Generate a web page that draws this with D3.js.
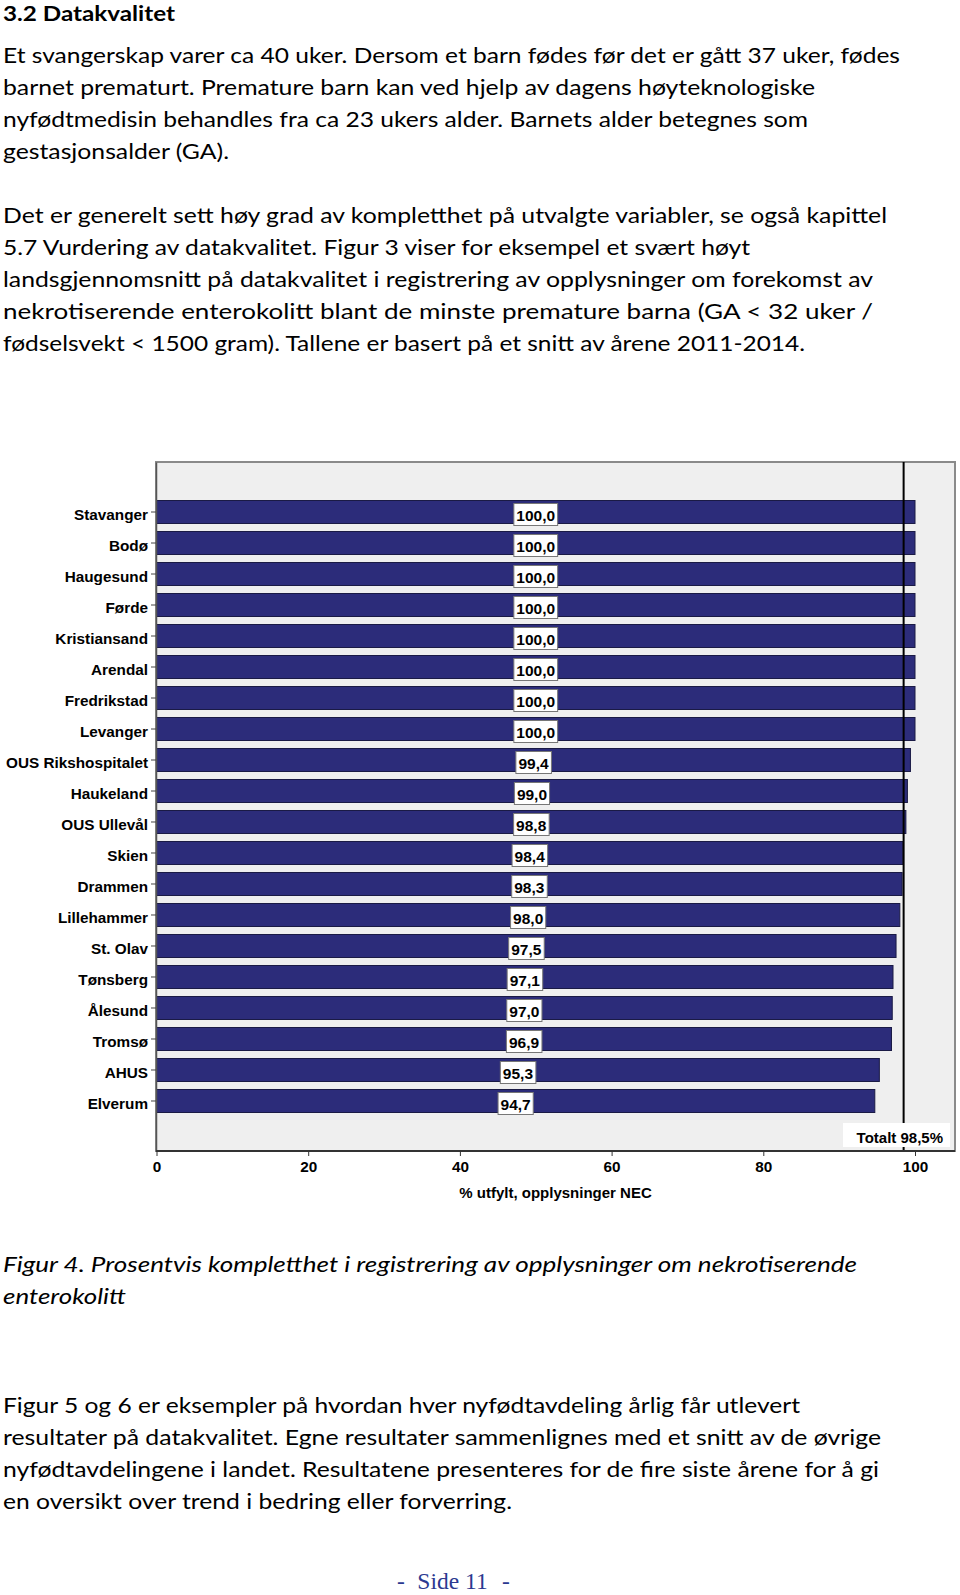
<!DOCTYPE html>
<html>
<head>
<meta charset="utf-8">
<script src="https://cdn.jsdelivr.net/npm/d3@7"></script>
<style>
  html, body { margin: 0; padding: 0; background: #fff; }
  svg { display: block; }
</style>
</head>
<body>
<script>
// ---------- DATA ----------
const categories = ["Stavanger","Bodø","Haugesund","Førde","Kristiansand","Arendal","Fredrikstad","Levanger",
  "OUS Rikshospitalet","Haukeland","OUS Ullevål","Skien","Drammen","Lillehammer","St. Olav","Tønsberg",
  "Ålesund","Tromsø","AHUS","Elverum"];
const values = [100.0,100.0,100.0,100.0,100.0,100.0,100.0,100.0,99.4,99.0,98.8,98.4,98.3,98.0,97.5,97.1,97.0,96.9,95.3,94.7];
const totalValue = 98.5;
const totalLabel = "Totalt 98,5%";
const xTicks = [0, 20, 40, 60, 80, 100];
const xTitle = "% utfylt, opplysninger NEC";

const heading = "3.2 Datakvalitet";
const para1 = [
  "Et svangerskap varer ca 40 uker. Dersom et barn fødes før det er gått 37 uker, fødes",
  "barnet prematurt. Premature barn kan ved hjelp av dagens høyteknologiske",
  "nyfødtmedisin behandles fra ca 23 ukers alder. Barnets alder betegnes som",
  "gestasjonsalder (GA)."
];
const para2 = [
  "Det er generelt sett høy grad av kompletthet på utvalgte variabler, se også kapittel",
  "5.7 Vurdering av datakvalitet. Figur 3 viser for eksempel et svært høyt",
  "landsgjennomsnitt på datakvalitet i registrering av opplysninger om forekomst av",
  "nekrotiserende enterokolitt blant de minste premature barna (GA < 32 uker /",
  "fødselsvekt < 1500 gram). Tallene er basert på et snitt av årene 2011-2014."
];
const caption = [
  "Figur 4. Prosentvis kompletthet i registrering av opplysninger om nekrotiserende",
  "enterokolitt"
];
const para3 = [
  "Figur 5 og 6 er eksempler på hvordan hver nyfødtavdeling årlig får utlevert",
  "resultater på datakvalitet. Egne resultater sammenlignes med et snitt av de øvrige",
  "nyfødtavdelingene i landet. Resultatene presenteres for de fire siste årene for å gi",
  "en oversikt over trend i bedring eller forverring."
];
const footer = ["-", "Side 11", "-"];

// ---------- LAYOUT ----------
const W = 960, H = 1595;
const svg = d3.select("body").append("svg").attr("width", W).attr("height", H);
svg.append("rect").attr("width", W).attr("height", H).attr("fill", "#fff");

const bodyFont = "Lato, 'Open Sans', sans-serif";
const chartFont = "'Liberation Sans', Arial, sans-serif";

function textBlock(lines, x0, y0, lh, widths, opts) {
  lines.forEach((t, i) => {
    const el = svg.append("text")
      .attr("x", x0).attr("y", y0 + i * lh)
      .attr("font-family", bodyFont)
      .attr("font-size", opts.size || 22)
      .attr("font-weight", opts.weight || "normal")
      .attr("font-style", opts.style || "normal")
      .attr("fill", "#000")
      .text(t);
    if (widths && widths[i]) {
      el.attr("textLength", widths[i] - x0).attr("lengthAdjust", "spacingAndGlyphs");
    }
  });
}

textBlock([heading], 3, 21, 32, [175], {weight: "bold", size: 21});
textBlock(para1, 3, 63, 32, [900, 815, 808, 229], {});
textBlock(para2, 3, 223, 32, [887, 750, 873, 873, 805], {});
textBlock(caption, 3, 1272, 32, [857, 126], {style: "italic"});
textBlock(para3, 3, 1413, 32, [800, 881, 879, 512], {});

// footer
const footColor = "#2b3990";
const fx = [401, 452.5, 506];
footer.forEach((t, i) => {
  svg.append("text").attr("x", fx[i]).attr("y", 1589)
    .attr("text-anchor", "middle")
    .attr("font-family", "'Liberation Serif', 'Times New Roman', serif")
    .attr("font-size", 23.5).attr("fill", footColor).text(t);
});

// ---------- CHART ----------
const plotL = 156, plotR = 955, plotT = 462, plotB = 1151;
const x = d3.scaleLinear().domain([0, 100]).range([156.5, 915]);
const y = d3.scaleBand().domain(categories).range([plotT, plotB])
  .paddingInner(0.258).paddingOuter(1.242);

const g = svg.append("g");
g.append("rect").attr("x", plotL).attr("y", plotT)
  .attr("width", plotR - plotL).attr("height", plotB - plotT)
  .attr("fill", "#efefef").attr("stroke", "#8a8a8a").attr("stroke-width", 2);

const data = categories.map((c, i) => ({c, v: values[i]}));

g.selectAll("rect.bar").data(data).join("rect")
  .attr("class", "bar")
  .attr("x", x(0))
  .attr("y", d => y(d.c))
  .attr("width", d => x(d.v) - x(0))
  .attr("height", y.bandwidth())
  .attr("fill", "#2c2c7a")
  .attr("stroke", "#1a1a45").attr("stroke-width", 1);

// total reference line
g.append("line")
  .attr("x1", x(totalValue)).attr("x2", x(totalValue))
  .attr("y1", plotT).attr("y2", plotB)
  .attr("stroke", "#000").attr("stroke-width", 2);

// value labels
const fmt = v => v.toFixed(1).replace(".", ",");
const lab = g.selectAll("g.lab").data(data).join("g").attr("class", "lab")
  .attr("transform", d => `translate(${x(d.v / 2)},${y(d.c)})`);
lab.append("text")
  .attr("text-anchor", "middle").attr("y", 20.5)
  .attr("font-family", chartFont).attr("font-weight", "bold").attr("font-size", 15.5)
  .attr("fill", "#000")
  .text(d => fmt(d.v))
  .each(function() {
    const b = this.getBBox();
    d3.select(this.parentNode).insert("rect", "text")
      .attr("x", b.x - 2.5).attr("y", 3)
      .attr("width", b.width + 5).attr("height", 22)
      .attr("fill", "#fff").attr("stroke", "#777").attr("stroke-width", 1);
  });

// totalt label
const tg = g.append("g");
tg.append("text").attr("x", 943).attr("y", 1143)
  .attr("text-anchor", "end")
  .attr("font-family", chartFont).attr("font-weight", "bold").attr("font-size", 15)
  .attr("fill", "#000").text(totalLabel);
tg.insert("rect", "text").attr("x", 843).attr("y", 1123)
  .attr("width", 107).attr("height", 24).attr("fill", "#fff");

// axes
const yAxis = g.append("g").attr("transform", `translate(${plotL},0)`)
  .call(d3.axisLeft(y).tickSize(5).tickPadding(3).tickSizeOuter(0));
yAxis.select(".domain").attr("stroke", "#555").attr("stroke-width", 1.5);
yAxis.selectAll(".tick line").attr("stroke", "#444");
yAxis.selectAll(".tick text")
  .attr("font-family", chartFont).attr("font-weight", "bold").attr("font-size", 15.3)
  .attr("fill", "#000").attr("dy", "0.5em");

const xAxis = g.append("g").attr("transform", `translate(0,${plotB})`)
  .call(d3.axisBottom(x).tickValues(xTicks).tickSize(5).tickPadding(5).tickSizeOuter(0));
xAxis.select(".domain").attr("d", `M${plotL},0H${plotR}`).attr("stroke", "#333").attr("stroke-width", 2);
xAxis.selectAll(".tick line").attr("stroke", "#333");
xAxis.selectAll(".tick text")
  .attr("font-family", chartFont).attr("font-weight", "bold").attr("font-size", 15.3)
  .attr("fill", "#000");

g.append("text").attr("x", (plotL + plotR) / 2).attr("y", 1198)
  .attr("text-anchor", "middle")
  .attr("font-family", chartFont).attr("font-weight", "bold").attr("font-size", 15)
  .attr("fill", "#000").text(xTitle);
</script>
</body>
</html>
